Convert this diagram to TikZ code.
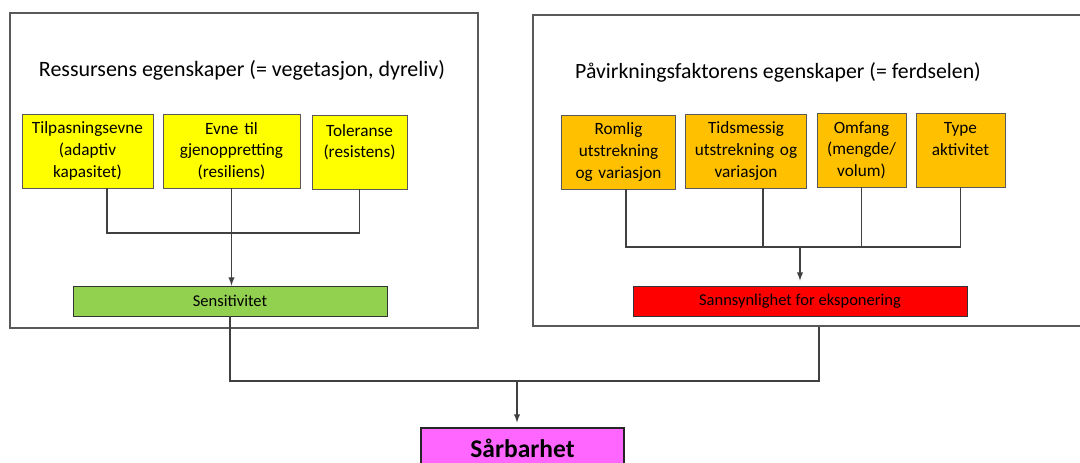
\documentclass[tikz,border=0pt]{standalone}
\usepackage{fontspec}
\setmainfont{Carlito}
\usetikzlibrary{calc,positioning,arrows}
\definecolor{gul}{HTML}{FFFF00}
\definecolor{oransje}{HTML}{FFC000}
\definecolor{gronn}{HTML}{92D050}
\definecolor{rosa}{HTML}{FF66FF}
\begin{document}
\begin{tikzpicture}[x=0.02cm, y=-0.02cm]
\tikzstyle{frame}=[draw=black!65, line width=0.7pt, inner sep=0pt]
\tikzstyle{box}=[draw=black!65, line width=0.5pt, align=center, inner sep=1pt,
                 minimum height=1.48cm, font=\fontsize{9.8}{12.3}\selectfont]
\tikzstyle{bar}=[draw=black!80, line width=0.5pt, minimum height=0.6cm,
                 inner sep=0pt, font=\fontsize{9.4}{11}\selectfont]
\tikzstyle{line}=[draw=black!75, line width=0.6pt]
\tikzstyle{arr}=[line, -latex]
\useasboundingbox (0,0) rectangle (1080,463);
\clip (0,0) rectangle (1080,463);
\node[frame, minimum width=9.36cm, minimum height=6.30cm] (LF) at (244,170.5) {};
\node[frame, minimum width=11.14cm, minimum height=6.22cm] (RF) at (811.5,170.5) {};
\node[font=\fontsize{12.5}{15}\selectfont] (LT) at (242,70) {Ressursens egenskaper (= vegetasjon, dyreliv)};
\node[font=\fontsize{12.4}{15}\selectfont] (RT) at (778,72) {Påvirkningsfaktorens egenskaper (= ferdselen)};
\node[box, fill=gul, minimum width=2.62cm, text width=2.5cm] (Y1) at (87.5,151) {Tilpasningsevne\\(adaptiv\\kapasitet)};
\node[box, fill=gul, minimum width=2.74cm, text width=2.6cm] (Y2) at (231.5,151) {Evne til\\gjenoppretting\\(resiliens)};
\node[box, fill=gul, minimum width=1.90cm, text width=1.8cm] (Y3) at (359.5,152) {Toleranse\\(resistens)\\\mbox{}};
\node[bar, fill=gronn, minimum width=6.28cm] (Sens) at (230,301) {Sensitivitet};
\node[box, fill=oransje, minimum width=2.26cm, text width=2.2cm] (O1) at (618.5,152) {Romlig\\utstrekning\\og variasjon};
\node[box, fill=oransje, minimum width=2.40cm, text width=2.35cm] (O2) at (746,151) {Tidsmessig\\utstrekning og\\variasjon};
\node[box, fill=oransje, minimum width=1.78cm, text width=1.7cm] (O3) at (861.5,150) {Omfang\\(mengde/\\volum)};
\node[box, fill=oransje, minimum width=1.78cm, text width=1.7cm] (O4) at (960.5,150) {Type\\aktivitet\\\mbox{}};
\node[bar, fill=red, minimum width=6.68cm] (Red) at (800,301) {Sannsynlighet for eksponering};
\node[draw=black!85, line width=0.6pt, fill=rosa, minimum width=4.06cm, minimum height=0.8cm,
      font=\fontsize{14.5}{17}\selectfont\bfseries] (Sarb) at (522.5,448) {Sårbarhet};
\draw[line] ([xshift=0.39cm]Y1.south) |- (Y3.south |- 0,233) -- (Y3.south);
\draw[arr] (Y2.south) -- (Y2.south |- Sens.north);
\draw[line] ([xshift=0.15cm]O1.south) |- (O4.south |- 0,247) -- (O4.south);
\draw[line] ([xshift=0.34cm]O2.south) -- ([xshift=0.34cm]O2.south |- 0,247);
\draw[line] (O3.south) -- (O3.south |- 0,247);
\draw[arr] (Red.north |- 0,247) -- ([yshift=0.1cm]Red.north);
\coordinate (J) at (517,381);
\draw[line] (Sens.south) |- (J) -| ([xshift=0.15cm]RF.south);
\draw[arr] (J) -- ([yshift=0.1cm]J |- Sarb.north);
\end{tikzpicture}
\end{document}
